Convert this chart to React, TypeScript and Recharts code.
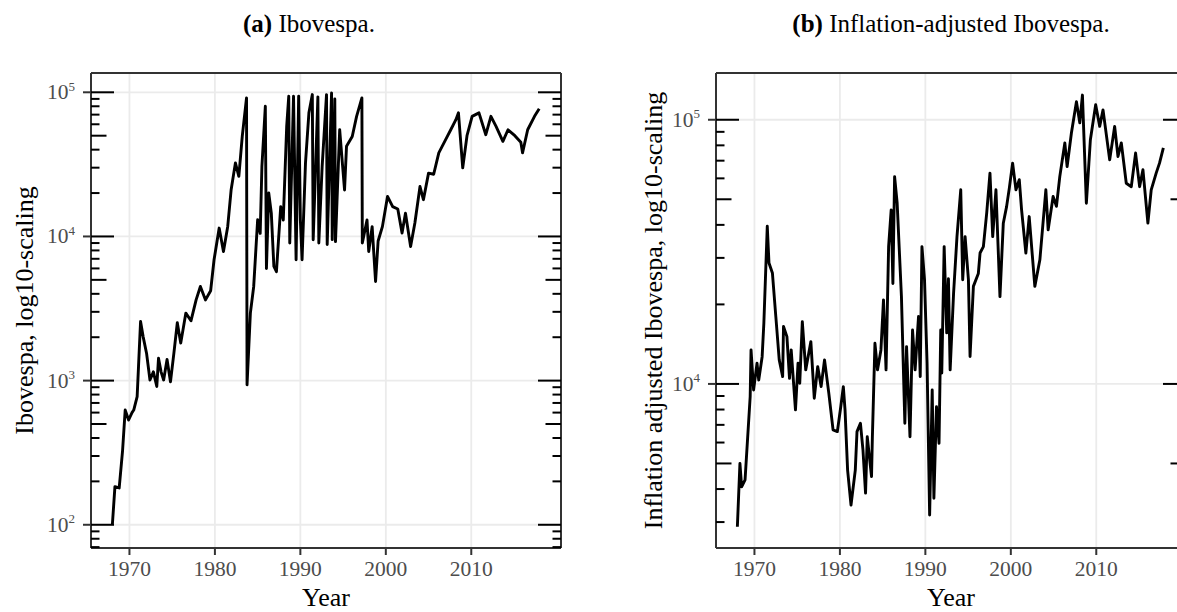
import React from 'react';
import { LineChart, Line, XAxis, YAxis, ReferenceLine } from 'recharts';

const yearsNominal = [
  1968.0, 1968.3, 1968.8, 1969.2, 1969.5, 1969.9, 1970.3, 1970.5, 1970.9, 1971.06,
  1971.3, 1971.6, 1972.0, 1972.4, 1972.8, 1973.2, 1973.4, 1973.7, 1974.0, 1974.4,
  1974.8, 1975.2, 1975.6, 1976.0, 1976.6, 1977.2, 1977.8, 1978.3, 1978.9, 1979.5,
  1979.9, 1980.5, 1981.0, 1981.5, 1981.9, 1982.4, 1982.8, 1983.2, 1983.7, 1983.76,
  1984.15, 1984.54, 1985.0, 1985.3, 1985.5, 1985.9, 1986.03, 1986.3, 1986.6, 1986.9,
  1987.2, 1987.7, 1988.0, 1988.4, 1988.64, 1988.76, 1989.2, 1989.5, 1989.8, 1990.0,
  1990.2, 1990.6, 1991.0, 1991.4, 1991.5, 1991.8, 1992.05, 1992.16, 1992.55, 1993.06,
  1993.14, 1993.65, 1993.73, 1994.03, 1994.11, 1994.6, 1995.17, 1995.4, 1996.07, 1996.58,
  1997.2, 1997.25, 1997.8, 1998.0, 1998.4, 1998.8, 1999.1, 1999.6, 2000.2, 2000.8,
  2001.4, 2001.9, 2002.3, 2002.9, 2003.4, 2004.0, 2004.4, 2005.0, 2005.6, 2006.2,
  2007.0, 2007.6, 2008.2, 2008.5, 2009.0, 2009.5, 2010.1, 2010.9, 2011.7, 2012.3,
  2012.9, 2013.7, 2014.3, 2015.1, 2015.8, 2016.0, 2016.6, 2017.4, 2017.95,
];
const valuesNominal = [
  100, 184, 180, 330, 625, 533, 600, 625, 774, 1250,
  2570, 2020, 1550, 1010, 1150, 910, 1430, 1150, 1010, 1400,
  980, 1550, 2520, 1820, 2940, 2600, 3630, 4500, 3630, 4200,
  6890, 11430, 7870, 11740, 21100, 32400, 26100, 49400, 91400, 935,
  2940, 4500, 13060, 10500, 30600, 80000, 6000, 20000, 14500, 6200,
  5700, 16100, 13000, 58000, 93800, 9000, 93800, 6900, 93800, 13000,
  6900, 32400, 72000, 96400, 9490, 32400, 93000, 9000, 30600, 96400,
  8800, 99000, 9500, 90000, 9200, 55000, 21000, 42200, 49400, 68100,
  91400, 9000, 13000, 7870, 11700, 4870, 9300, 11700, 18950, 16100,
  15500, 10560, 14500, 8520, 12400, 22200, 18000, 27500, 27000, 38000,
  46900, 55000, 64600, 72000, 29900, 50000, 68100, 72000, 50800, 68100,
  58100, 45700, 55000, 50000, 45000, 38000, 55000, 68100, 76800,
];

const yearsReal = [
  1968.0, 1968.3, 1968.5, 1968.9, 1969.5, 1969.6, 1969.9, 1970.3, 1970.5, 1970.9,
  1971.1, 1971.5, 1971.7, 1972.1, 1972.5, 1972.9, 1973.3, 1973.4, 1973.8, 1974.1,
  1974.3, 1974.8, 1975.1, 1975.3, 1975.6, 1976.0, 1976.6, 1977.0, 1977.4, 1977.8,
  1978.2, 1978.7, 1979.2, 1979.7, 1980.1, 1980.4, 1980.6, 1980.9, 1981.3, 1981.8,
  1982.0, 1982.4, 1982.7, 1983.0, 1983.2, 1983.7, 1983.8, 1984.1, 1984.4, 1984.8,
  1985.1, 1985.4, 1985.7, 1986.0, 1986.2, 1986.4, 1986.7, 1987.2, 1987.6, 1987.8,
  1988.2, 1988.5, 1988.8, 1989.2, 1989.4, 1989.6, 1989.9, 1990.2, 1990.5, 1990.8,
  1991.0, 1991.3, 1991.6, 1991.8, 1991.92, 1992.2, 1992.5, 1992.7, 1992.9, 1993.3,
  1993.7, 1994.14, 1994.37, 1994.65, 1995.04, 1995.23, 1995.62, 1996.2, 1996.4, 1996.79,
  1997.18, 1997.56, 1997.88, 1998.26, 1998.73, 1999.12, 1999.51, 1999.82, 2000.21, 2000.6,
  2000.99, 2001.26, 2001.76, 2002.15, 2002.81, 2003.4, 2004.1, 2004.37, 2004.95, 2005.34,
  2005.73, 2006.32, 2006.59, 2007.09, 2007.68, 2008.07, 2008.38, 2008.84, 2009.31, 2009.93,
  2010.4, 2010.79, 2011.57, 2012.15, 2012.54, 2012.93, 2013.51, 2014.1, 2014.6, 2015.07,
  2015.46, 2016.04, 2016.43, 2017.01, 2017.4, 2017.85,
];
const valuesReal = [
  2880, 5000, 4080, 4330, 8960, 13450, 9490, 11980, 10350, 12680,
  16970, 39500, 28700, 26300, 18000, 12330, 10660, 16500, 15100, 10500,
  13450, 7980, 11980, 10060, 17200, 11300, 14460, 8830, 11630, 9770,
  12330, 9230, 6700, 6600, 8200, 9770, 7980, 4720, 3480, 4720,
  6600, 7100, 5620, 3860, 6310, 4460, 6310, 14250, 11300, 13450,
  20800, 11300, 33100, 45600, 24000, 60900, 48300, 21400, 7100, 13840,
  6310, 16000, 11300, 18000, 10660, 33100, 24800, 11980, 3190, 9490,
  3690, 8200, 5960, 16000, 11000, 33100, 15600, 25000, 11300, 22000,
  36100, 54300, 24800, 36100, 24800, 12700, 23400, 26200, 31300, 33100,
  44400, 62800, 36100, 54300, 21400, 40600, 47000, 55000, 68500, 54300,
  59300, 45600, 31300, 43000, 23400, 29500, 54300, 38300, 51200, 47000,
  60900, 81700, 66500, 89100, 117000, 97300, 124000, 48300, 84000, 114000,
  94400, 109000, 70500, 94400, 72600, 81700, 57500, 55800, 74800, 55800,
  64700, 40600, 54300, 62800, 68500, 78200,
];

const yearTicks = [1970, 1980, 1990, 2000, 2010];
const decadesNominal = [100, 1000, 10000, 100000];
const decadesReal = [10000, 100000];
const logTicksNominal = [
  70, 80, 90,
  100, 200, 300, 400, 500, 600, 700, 800, 900,
  1000, 2000, 3000, 4000, 5000, 6000, 7000, 8000, 9000,
  10000, 20000, 30000, 40000, 50000, 60000, 70000, 80000, 90000,
  100000,
];
const logTicksReal = [
  3000, 4000, 5000, 6000, 7000, 8000, 9000,
  10000, 20000, 30000, 40000, 50000, 60000, 70000, 80000, 90000,
  100000,
];
const xDomain = [1965.5, 2020.5];
const yDomainNominal = [69, 136100];
const yDomainReal = [2393, 150300];

const FONT = '"Liberation Serif", "Times New Roman", serif';
const GRID = '#EBEBEB';
const BORDER = '#333333';
const TICKTEXT = '#4D4D4D';

function tickInfo(v: number) {
  const p = Math.floor(Math.log10(v) + 1e-9);
  const lead = Math.round(v / Math.pow(10, p));
  return { p, lead };
}

const LeftTick = (props: any) => {
  const { x, y, payload } = props;
  const edge = x + 16; // tickSize 8 + tickMargin 8
  const { p, lead } = tickInfo(payload.value);
  const len = lead === 1 ? 23 : lead === 5 ? 15.5 : 8.5;
  return (
    <g>
      {lead === 1 && (
        <line x1={edge - 8} x2={edge} y1={y} y2={y} stroke={BORDER} strokeWidth={2} />
      )}
      <line x1={edge} x2={edge + len} y1={y} y2={y} stroke="#000" strokeWidth={2} />
      {lead === 1 && (
        <text x={edge - 16} y={y + 7} textAnchor="end" fill={TICKTEXT} fontSize={21.5} fontFamily={FONT}>
          10
          <tspan dy={-8.6} fontSize={13}>{p}</tspan>
        </text>
      )}
    </g>
  );
};

const RightTick = (props: any) => {
  const { x, y, payload } = props;
  const { lead } = tickInfo(payload.value);
  const len = lead === 1 ? 23 : lead === 5 ? 15.5 : 8.5;
  return <line x1={x - len} x2={x} y1={y} y2={y} stroke="#000" strokeWidth={2} />;
};

function Panel(props: {
  years: number[];
  values: number[];
  yDomain: number[];
  logTicks: number[];
  decades: number[];
  left: number;
  yTitle: string;
  yTitleX: number;
}) {
  const { years, values, yDomain, logTicks, decades, left, yTitle, yTitleX } = props;
  const data = years.map((yr, i) => ({ year: yr, value: values[i] }));
  const yTitleContent = (lp: any) => {
    const vb = lp.viewBox;
    return (
      <text
        transform={`translate(${vb.x + yTitleX}, ${vb.y + vb.height / 2}) rotate(-90)`}
        textAnchor="middle"
        fontSize={26}
        fill="#000"
        fontFamily={FONT}
      >
        {yTitle}
      </text>
    );
  };
  const xTitleContent = (lp: any) => {
    const vb = lp.viewBox;
    return (
      <text x={vb.x + vb.width / 2} y={vb.y + vb.height - 6} textAnchor="middle" fontSize={26} fill="#000" fontFamily={FONT}>
        Year
      </text>
    );
  };
  return (
    <div style={{ position: 'absolute', left, top: 0 }}>
      <LineChart width={600} height={612} data={data} margin={{ top: 72, right: 0, bottom: 0, left: 0 }}>
        <XAxis
          xAxisId="b"
          dataKey="year"
          type="number"
          domain={xDomain}
          allowDataOverflow
          ticks={yearTicks}
          interval={0}
          height={64}
          tickSize={7}
          tickMargin={6}
          axisLine={{ stroke: BORDER, strokeWidth: 2 }}
          tickLine={{ stroke: BORDER, strokeWidth: 2 }}
          tick={{ fill: TICKTEXT, fontSize: 21.5, fontFamily: FONT }}
          label={xTitleContent}
        />
        <XAxis
          xAxisId="t"
          orientation="top"
          type="number"
          domain={xDomain}
          allowDataOverflow
          height={1}
          tick={false}
          tickLine={false}
          axisLine={{ stroke: BORDER, strokeWidth: 2 }}
        />
        <YAxis
          yAxisId="l"
          type="number"
          scale="log"
          domain={yDomain}
          allowDataOverflow
          ticks={logTicks}
          interval={0}
          width={91}
          tickSize={8}
          tickMargin={8}
          tickLine={false}
          axisLine={{ stroke: BORDER, strokeWidth: 2 }}
          tick={(tp: any) => <LeftTick {...tp} />}
          label={yTitleContent}
        />
        <YAxis
          yAxisId="r"
          orientation="right"
          type="number"
          scale="log"
          domain={yDomain}
          allowDataOverflow
          ticks={logTicks}
          interval={0}
          width={39}
          tickSize={0}
          tickMargin={0}
          tickLine={false}
          axisLine={{ stroke: BORDER, strokeWidth: 2 }}
          tick={(tp: any) => <RightTick {...tp} />}
        />
        {decades.map((d) => (
          <ReferenceLine key={'h' + d} xAxisId="b" yAxisId="l" y={d} stroke={GRID} strokeWidth={1.8} />
        ))}
        {yearTicks.map((yr) => (
          <ReferenceLine key={'v' + yr} xAxisId="b" yAxisId="l" x={yr} stroke={GRID} strokeWidth={1.8} />
        ))}
        <Line
          xAxisId="b"
          yAxisId="l"
          dataKey="value"
          type="linear"
          stroke="#000"
          strokeWidth={2.9}
          strokeLinejoin="round"
          dot={false}
          isAnimationActive={false}
        />
      </LineChart>
    </div>
  );
}

export default function App() {
  return (
    <div
      style={{
        position: 'absolute',
        left: 0,
        top: 0,
        width: 1177,
        height: 612,
        overflow: 'hidden',
        background: '#fff',
        fontFamily: FONT,
      }}
    >
      <svg width={1177} height={44} style={{ position: 'absolute', left: 0, top: 0 }}>
        <text x={309} y={31.5} textAnchor="middle" fontSize={25} fontFamily={FONT} fill="#000">
          <tspan fontWeight="bold">(a)</tspan> Ibovespa.
        </text>
        <text x={951} y={31.5} textAnchor="middle" fontSize={25} fontFamily={FONT} fill="#000">
          <tspan fontWeight="bold">(b)</tspan> Inflation-adjusted Ibovespa.
        </text>
      </svg>
      <Panel
        years={yearsNominal}
        values={valuesNominal}
        yDomain={yDomainNominal}
        logTicks={logTicksNominal}
        decades={decadesNominal}
        left={0}
        yTitle="Ibovespa, log10-scaling"
        yTitleX={33}
      />
      <Panel
        years={yearsReal}
        values={valuesReal}
        yDomain={yDomainReal}
        logTicks={logTicksReal}
        decades={decadesReal}
        left={625}
        yTitle="Inflation adjusted Ibovespa, log10-scaling"
        yTitleX={37}
      />
    </div>
  );
}
